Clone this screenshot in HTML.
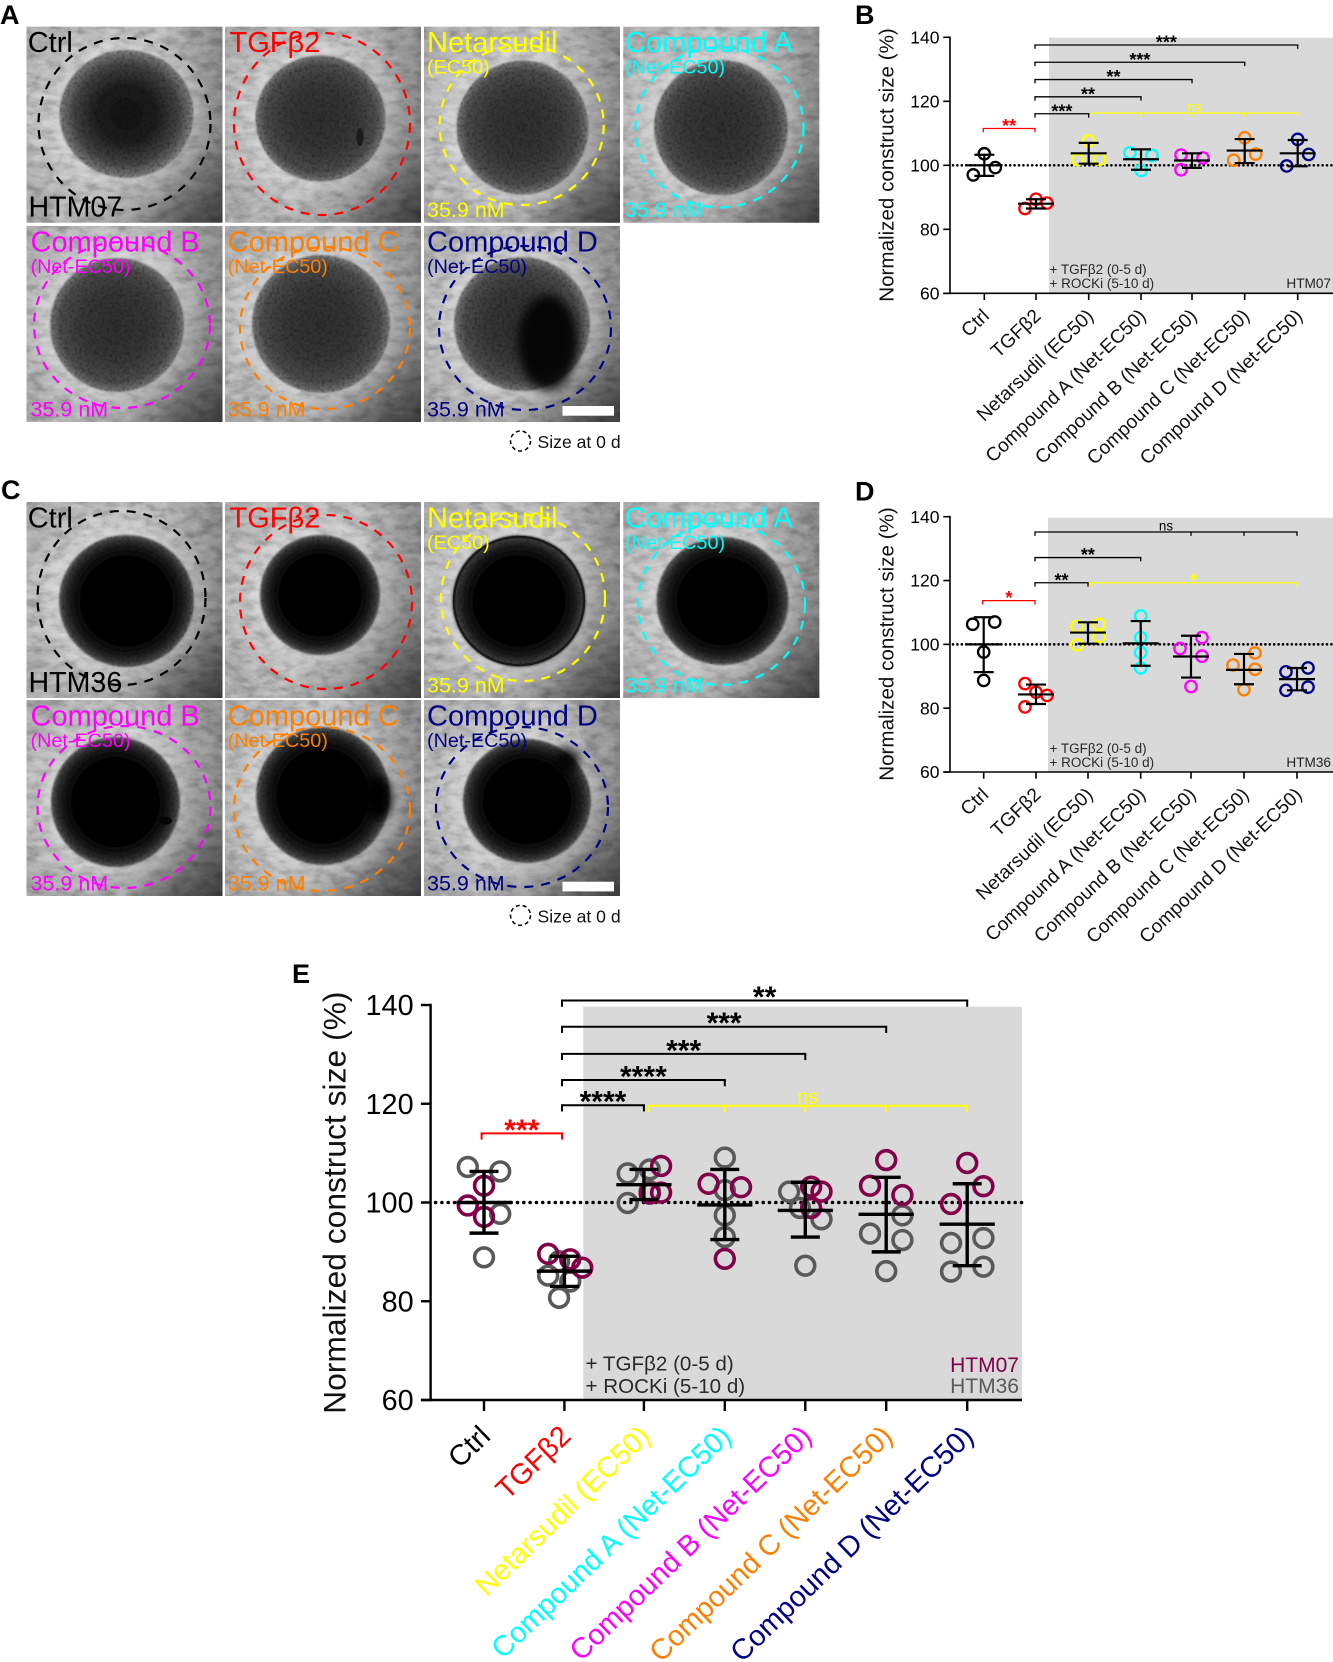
<!DOCTYPE html>
<html lang="en">
<head>
<meta charset="utf-8">
<title>Normalized construct size figure</title>
<style>
html,body{margin:0;padding:0;background:#fff;width:1333px;height:1662px;overflow:hidden}
svg{display:block}
text{font-family:"Liberation Sans","Noto Sans CJK SC",sans-serif}
</style>
</head>
<body>
<svg id="fig" xmlns="http://www.w3.org/2000/svg" width="1333" height="1662" viewBox="0 0 1333 1662">
<defs>
<radialGradient id="tileGlow" cx="50%" cy="50%" r="62%">
<stop offset="0%" stop-color="#fff" stop-opacity=".46"/><stop offset="62%" stop-color="#fff" stop-opacity=".32"/><stop offset="100%" stop-color="#fff" stop-opacity="0"/>
</radialGradient>
<linearGradient id="tileShade" x1="0.15" y1="0.1" x2="1" y2="1">
<stop offset="0%" stop-color="#000" stop-opacity="0"/><stop offset="72%" stop-color="#000" stop-opacity=".04"/><stop offset="100%" stop-color="#000" stop-opacity=".55"/>
</linearGradient>
<linearGradient id="tileShadeTop" x1="0" y1="0" x2="1" y2="0.4">
<stop offset="60%" stop-color="#000" stop-opacity="0"/><stop offset="100%" stop-color="#000" stop-opacity=".25"/>
</linearGradient>
<radialGradient id="sphLight"><stop offset="0%" stop-color="#2e2e2e"/><stop offset="55%" stop-color="#383838"/><stop offset="85%" stop-color="#4c4c4c"/><stop offset="100%" stop-color="#787878"/></radialGradient>
<radialGradient id="sphMid"><stop offset="0%" stop-color="#141414"/><stop offset="45%" stop-color="#1e1e1e"/><stop offset="78%" stop-color="#444"/><stop offset="100%" stop-color="#808080"/></radialGradient>
<radialGradient id="sphDark"><stop offset="0%" stop-color="#040404"/><stop offset="68%" stop-color="#050505"/><stop offset="82%" stop-color="#181818"/><stop offset="93%" stop-color="#363636"/><stop offset="100%" stop-color="#5a5a5a"/></radialGradient>
<radialGradient id="halo"><stop offset="68%" stop-color="#fff" stop-opacity=".26"/><stop offset="100%" stop-color="#fff" stop-opacity="0"/></radialGradient>
<filter id="grainDark" x="0" y="0" width="1" height="1" color-interpolation-filters="sRGB"><feTurbulence type="fractalNoise" baseFrequency=".07 .13" numOctaves="4" seed="7"/><feColorMatrix values="0 0 0 0 0 0 0 0 0 0 0 0 0 0 0 2.4 0 0 0 -1"/></filter>
<filter id="grainLight" x="0" y="0" width="1" height="1" color-interpolation-filters="sRGB"><feTurbulence type="fractalNoise" baseFrequency=".06 .11" numOctaves="4" seed="19"/><feColorMatrix values="0 0 0 0 1 0 0 0 0 1 0 0 0 0 1 2.6 0 0 0 -1.05"/></filter>
<filter id="speck" x="0" y="0" width="1" height="1" color-interpolation-filters="sRGB"><feTurbulence type="fractalNoise" baseFrequency=".4" numOctaves="2" seed="4" result="n"/><feColorMatrix in="n" values="0 0 0 0 0 0 0 0 0 0 0 0 0 0 0 3 0 0 0 -1.35" result="d"/><feGaussianBlur in="d" stdDeviation=".6" result="b"/><feComposite in="b" in2="SourceAlpha" operator="in"/></filter>
<filter id="edgeSoft" x="-5%" y="-5%" width="110%" height="110%"><feGaussianBlur stdDeviation="1.1"/></filter>
<filter id="soft" x="-30%" y="-30%" width="160%" height="160%"><feGaussianBlur stdDeviation="5"/></filter>
</defs>
<g id="photos"></g>
<g id="charts"></g>
</svg>
<script>
/* ---------- chart data ---------- */
const categories = ["Ctrl", "TGFβ2", "Netarsudil (EC50)", "Compound A (Net-EC50)", "Compound B (Net-EC50)", "Compound C (Net-EC50)", "Compound D (Net-EC50)"];
const groupColors = ["#000000", "#ff0000", "#ffff00", "#00ffff", "#ff00ff", "#ff7f00", "#000080"];
const yTickLabels = [60, 80, 100, 120, 140];

const bValues = [[103.6, 97, 99.3], [89.4, 86.5, 88.2], [107.6, 101.8, 101.9], [103.9, 103.1, 98.4], [103.2, 102.3, 98.6], [108.6, 103.5, 101.6], [108.1, 103.4, 99.8]];
const bSlots = [[0, -1, 1], [0, -1, 1], [0, -1, 1], [-1, 1, 0], [-1, 1, -1], [0, 1, -1], [0, 1, -1]];
const bMeans = [100, 88, 103.75, 101.9, 101.5, 104.6, 103.75];
const bUpper = [103.3, 89.4, 107, 105, 103.75, 108.2, 107.9];
const bLower = [96.7, 86.5, 100.5, 98.6, 99.2, 100.7, 99.7];
const bBrackets = [
  {from: 0, to: 1, level: 111.5, label: "**", color: "#ff0000", drops: [0, 1]},
  {from: 1, to: 2, level: 116.1, label: "***", color: "#000000", drops: [1, 2]},
  {from: 1, to: 3, level: 121.4, label: "**", color: "#000000", drops: [1, 3]},
  {from: 1, to: 4, level: 126.8, label: "**", color: "#000000", drops: [1, 4]},
  {from: 1, to: 5, level: 132.2, label: "***", color: "#000000", drops: [1, 5]},
  {from: 1, to: 6, level: 137.6, label: "***", color: "#000000", drops: [1, 6]},
  {from: 2.05, to: 6, level: 116.35, label: "ns", color: "#ffff00", drops: [2.05, 3, 4, 5, 6]}
];

const dValues = [[106.3, 107, 97.6, 88.7], [87.7, 85, 84, 80.4], [105.6, 106.3, 102.5, 99.8], [108.9, 102.1, 97.4, 92.6], [102.1, 98.7, 96.3, 86.8], [97.3, 93.5, 92.2, 85.8], [91.4, 92.6, 85.6, 86.6]];
const dSlots = [[-1, 1, 0, 0], [-1, 0, 1, -1], [-1, 1, 1, -1], [0, 0, 0, 0], [1, -1, 1, 0], [1, -1, 1, 0], [-1, 1, -1, 1]];
const dMeans = [100, 84.3, 103.7, 100.3, 96.2, 92, 89.1];
const dUpper = [108.5, 87.4, 106.9, 107.3, 102.7, 97, 92.6];
const dLower = [91.3, 81.3, 100.2, 93.3, 89.6, 87.5, 85.6];
const dBrackets = [
  {from: 0, to: 1, level: 113.7, label: "*", color: "#ff0000", drops: [0, 1]},
  {from: 1, to: 2, level: 119.3, label: "**", color: "#000000", drops: [1, 2]},
  {from: 1, to: 3, level: 127.2, label: "**", color: "#000000", drops: [1, 3]},
  {from: 1, to: 6, level: 135.2, label: "ns", color: "#000000", drops: [1, 4, 5, 6]},
  {from: 2.05, to: 6, level: 119.3, label: "*", color: "#ffff00", drops: [2.05, 6]}
];

const eHtm36Values = [[107.2, 106.3, 97.7, 88.9], [88.1, 85.2, 84, 80.7], [105.9, 106.7, 102.3, 99.9], [109.1, 102.5, 97.4, 93], [102.2, 98.9, 96.6, 87.2], [97.4, 93.7, 92.4, 86.1], [92.8, 91.8, 87, 86]];
const eHtm36Slots = [[-1, 1, 1, 0], [-0.33, -1, 0.36, -0.33], [-1, 0.36, 0.36, -1], [0, 0, 0, 0], [-1, -0.33, 1, 0], [1, -1, 1, 0], [1, -1, 1, -1]];
const eHtm07Values = [[103.4, 99.4, 97.1], [89.6, 88.5, 86.8], [107.4, 101.8, 102], [103.8, 103.1, 88.6], [103.2, 102.2, 98.9], [108.6, 103.4, 101.5], [108, 103.3, 99.7]];
const eHtm07Slots = [[0, -1, 0], [-1, 0.36, 1.1], [1.06, 0.36, 1.06], [-1, 1, 0], [0.36, 1, 0.36], [0, -1, 1], [0, 1, -1]];
const eMeans = [100, 86.1, 103.6, 99.5, 98.4, 97.6, 95.6];
const eUpper = [106.3, 89.1, 106.7, 106.7, 104.1, 105.1, 103.8];
const eLower = [93.8, 83, 100.6, 92.5, 93, 90, 87.2];
const eBrackets = [
  {from: 0, to: 1, level: 114, label: "***", color: "#ff0000", drops: [0, 1]},
  {from: 1, to: 2, level: 119.7, label: "****", color: "#000000", drops: [1, 2]},
  {from: 1, to: 3, level: 124.8, label: "****", color: "#000000", drops: [1, 3]},
  {from: 1, to: 4, level: 130.1, label: "***", color: "#000000", drops: [1, 4]},
  {from: 1, to: 5, level: 135.6, label: "***", color: "#000000", drops: [1, 5]},
  {from: 1, to: 6, level: 140.9, label: "**", color: "#000000", drops: [1, 6]},
  {from: 2.06, to: 6, level: 119.6, label: "ns", color: "#ffff00", drops: [2.06, 3, 4, 5, 6]}
];

/* ---------- micrograph labels ---------- */
const tileTitles = ["Ctrl", "TGFβ2", "Netarsudil", "Compound A", "Compound B", "Compound C", "Compound D"];
const tileSubtitles = ["", "", "(EC50)", "(Net-EC50)", "(Net-EC50)", "(Net-EC50)", "(Net-EC50)"];
const tileDoses = ["", "", "35.9 nM", "35.9 nM", "35.9 nM", "35.9 nM", "35.9 nM"];
const legendText = "Size at 0 d";

const NS = "http://www.w3.org/2000/svg";
function add(parent, tag, attrs, text) {
  const e = document.createElementNS(NS, tag);
  for (const k in attrs) e.setAttribute(k, attrs[k]);
  if (text !== undefined) e.textContent = text;
  parent.appendChild(e);
  return e;
}
const photos = document.getElementById("photos");
const charts = document.getElementById("charts");

/* ---------- micrograph panels ---------- */
const tileCols = [26.5, 225, 424, 623.3];
const tileTextInset = [1.2, 4.5, 3, 1.8, 4, 2.8, 3];
const panelA = {
  letter: "A", letterX: 0, letterY: 24, rows: [26.7, 226], sample: "HTM07", grad: "sphLight", bar: 406, legY: 441, legBase: 448,
  tiles: [
    {s: [126.5, 114, 67, 64], d: [124.5, 124, 86, 86], grad: "sphMid"},
    {s: [320.5, 118.5, 65, 63], d: [322, 124, 88, 91], blobs: [[360, 137, 3.5, 9, .6]]},
    {s: [522.5, 127.5, 66, 67], d: [521.7, 125, 82, 80]},
    {s: [721, 127.5, 67, 67.5], d: [719.5, 127.5, 84, 80]},
    {s: [117, 325, 67, 67], d: [122, 325, 88, 83]},
    {s: [321, 324, 69, 69], d: [325, 328, 85, 81]},
    {s: [522, 324, 68, 67], d: [525, 328, 86, 82], blobs: [[548, 343, 30, 48, .88]]}
  ]
};
const panelC = {
  letter: "C", letterX: 1, letterY: 499, rows: [502, 700], sample: "HTM36", grad: "sphDark", bar: 881.7, legY: 915.3, legBase: 922.7,
  tiles: [
    {s: [126.5, 601, 67.5, 66], d: [121.5, 598, 84, 87]},
    {s: [320, 595, 60, 60], d: [326, 602, 86, 87]},
    {s: [519, 601, 67, 66], d: [523, 598, 82, 83], rim: true},
    {s: [722.5, 601, 66, 64], d: [721.5, 604, 83.5, 81]},
    {s: [115.5, 802, 64.5, 65], d: [124, 807, 86.5, 81], blobs: [[165, 820.7, 7, 4, 1]]},
    {s: [323, 796, 67, 69], d: [322, 809, 88, 82], blobs: [[378, 798, 14, 22, 1]]},
    {s: [527, 801, 64, 62], d: [522, 807, 86, 80], blobs: [[567, 760, 12, 12, .9]]}
  ]
};
function drawPanel(p) {
  const letter = add(photos, "text", {x: p.letterX, y: p.letterY, "font-size": 27, "font-weight": 700, fill: "#000"}, p.letter);
  
  
  p.tiles.forEach(function (t, i) {
    const x0 = tileCols[i < 4 ? i : i - 4];
    const y0 = p.rows[i < 4 ? 0 : 1];
    const g = add(photos, "g", {});
    
    
    const box = {x: x0, y: y0, width: 196, height: 196};
    add(g, "rect", Object.assign({fill: "#ababab"}, box));
    add(g, "rect", Object.assign({fill: "url(#tileGlow)"}, box));
    add(g, "rect", Object.assign({fill: "#000", filter: "url(#grainDark)", opacity: .2}, box));
    add(g, "rect", Object.assign({fill: "#fff", filter: "url(#grainLight)", opacity: .28}, box));
    add(g, "rect", Object.assign({fill: "url(#tileShade)"}, box));
    add(g, "rect", Object.assign({fill: "url(#tileShadeTop)"}, box));
    const S = t.s;
    add(g, "ellipse", {cx: S[0], cy: S[1], rx: S[2] * 1.28, ry: S[3] * 1.28, fill: "url(#halo)"});
    const sph = add(g, "ellipse", {cx: S[0], cy: S[1], rx: S[2], ry: S[3], fill: "url(#" + (t.grad || p.grad) + ")", filter: "url(#edgeSoft)"});
    
    
    add(g, "ellipse", {cx: S[0], cy: S[1], rx: S[2], ry: S[3], fill: "#000", filter: "url(#speck)", opacity: .35});
    if (t.rim) add(g, "ellipse", {cx: S[0], cy: S[1], rx: S[2] - 2, ry: S[3] - 2, fill: "none", stroke: "#1a1a1a", "stroke-width": 2.4});
    (t.blobs || []).forEach(function (b) {
      add(g, "ellipse", {cx: b[0], cy: b[1], rx: b[2], ry: b[3], fill: "#060606", opacity: b[4], filter: b[2] > 8 ? "url(#soft)" : "none"});
    });
    const col = groupColors[i];
    const D = t.d;
    const dash = add(g, "ellipse", {cx: D[0], cy: D[1], rx: D[2], ry: D[3], fill: "none", stroke: col, "stroke-width": 2.2, "stroke-dasharray": "9 8"});
    
    
    const tx = x0 + tileTextInset[i];
    const title = add(g, "text", {x: tx, y: y0 + 25.5, "font-size": 29, fill: col}, tileTitles[i]);
    
    
    if (tileSubtitles[i]) {
      const sub = add(g, "text", {x: tx, y: y0 + 46.8, "font-size": 19.8, fill: col}, tileSubtitles[i]);
      
      
    }
    if (tileDoses[i]) {
      const dose = add(g, "text", {x: tx, y: y0 + 190.4, "font-size": 21.5, fill: col}, tileDoses[i]);
      
      
    }
    if (i === 0) {
      const sample = add(g, "text", {x: x0 + 2, y: y0 + 190, "font-size": 28.6, fill: "#000"}, p.sample);
      
      
    }
  });
  const bar = add(photos, "rect", {x: 562.5, y: p.bar, width: 51.5, height: 9.7, fill: "#fff"});
  
  
  const lc = add(photos, "ellipse", {cx: 520.5, cy: p.legY, rx: 10, ry: 10, fill: "none", stroke: "#000", "stroke-width": 1.5, "stroke-dasharray": "4 3"});
  
  
  const lt = add(photos, "text", {x: 537.5, y: p.legBase, "font-size": 17.6, fill: "#111"}, legendText);
  
  
}
drawPanel(panelA);
drawPanel(panelC);

/* ---------- charts ---------- */
function drawChart(c) {
  const g = add(charts, "g", {});
  
  
  const sy = function (v) { return c.y60 + (v - 60) * (c.y140 - c.y60) / 80; };
  const sx = function (i) {
    const lo = Math.floor(i);
    const hi = Math.min(lo + 1, c.ticks.length - 1);
    return c.ticks[lo] + (i - lo) * (c.ticks[hi] - c.ticks[lo]);
  };
  const bx = function (i) { return sx(i) + (i < 2 ? c.hubShift : 0); };

  const letter = add(g, "text", {x: c.letterX, y: c.letterY, "font-size": 27, "font-weight": 700, fill: "#000"}, c.letter);
  
  

  const bg = add(g, "rect", {x: c.grayX, y: c.grayTop, width: c.right - c.grayX, height: c.y60 - c.grayTop, fill: "#d9d9d9"});
  
  

  const ref = add(g, "line", {x1: c.axisX + c.refGap, x2: c.right, y1: sy(100), y2: sy(100), stroke: "#000", "stroke-width": c.refW, "stroke-linecap": "round", "stroke-dasharray": "0 " + c.refStep});
  
  

  /* points */
  c.series.forEach(function (s) {
    s.values.forEach(function (vals, i) {
      vals.forEach(function (v, j) {
        const p = add(g, "circle", {cx: c.ticks[i] + s.slots[i][j] * c.slotW, cy: sy(v), r: c.r, fill: "none", stroke: s.color || groupColors[i], "stroke-width": c.ptW});
        
        
      });
    });
  });

  /* mean and error bars */
  c.means.forEach(function (m, i) {
    const x = c.ticks[i];
    const v = add(g, "line", {x1: x, x2: x, y1: sy(c.upper[i]), y2: sy(c.lower[i]), stroke: "#000", "stroke-width": c.barW});
    
    
    const t = add(g, "line", {x1: x - c.capW, x2: x + c.capW, y1: sy(c.upper[i]), y2: sy(c.upper[i]), stroke: "#000", "stroke-width": c.barW});
    
    
    const b = add(g, "line", {x1: x - c.capW, x2: x + c.capW, y1: sy(c.lower[i]), y2: sy(c.lower[i]), stroke: "#000", "stroke-width": c.barW});
    
    
    const ml = add(g, "line", {x1: x - c.meanW, x2: x + c.meanW, y1: sy(m), y2: sy(m), stroke: "#000", "stroke-width": c.barW});
    
    
  });

  /* axes */
  const ya = add(g, "line", {x1: c.axisX, x2: c.axisX, y1: sy(140) - c.axisW / 2, y2: c.y60 + c.axisW / 2, stroke: "#000", "stroke-width": c.axisW});
  
  
  const xa = add(g, "line", {x1: c.axisX - c.yTick, x2: c.right, y1: c.y60, y2: c.y60, stroke: "#000", "stroke-width": c.axisW});
  
  
  yTickLabels.forEach(function (v) {
    const t = add(g, "line", {x1: c.axisX - c.yTick, x2: c.axisX, y1: sy(v), y2: sy(v), stroke: "#000", "stroke-width": c.axisW});
    
    
    const l = add(g, "text", {x: c.yLabelX, y: sy(v) + c.yFont * 0.35, "text-anchor": "end", "font-size": c.yFont, fill: "#000"}, String(v));
    
    
  });
  categories.forEach(function (name, i) {
    const x = c.ticks[i];
    const t = add(g, "line", {x1: x, x2: x, y1: c.y60, y2: c.y60 + c.xTick, stroke: "#000", "stroke-width": c.axisW});
    
    
    const ax = x + c.xLabelDx;
    const ay = c.y60 + c.xLabelDy;
    const l = add(g, "text", {x: ax, y: ay, "text-anchor": "end", "font-size": c.xFont, fill: c.colorLabels ? groupColors[i] : "#111", transform: "rotate(" + c.xAngle + " " + ax + " " + ay + ")"}, name);
    
    
  });
  const yt = add(g, "text", {x: c.titleX, y: c.titleY, "text-anchor": "middle", "font-size": c.titleFont, fill: "#111", transform: "rotate(-90 " + c.titleX + " " + c.titleY + ")"}, "Normalized construct size (%)");
  
  

  /* significance brackets */
  c.brackets.forEach(function (b) {
    const y = sy(b.level);
    const x1 = bx(b.from);
    const x2 = bx(b.to);
    const h = add(g, "line", {x1: x1 - c.brW / 2, x2: x2 + c.brW / 2, y1: y, y2: y, stroke: b.color, "stroke-width": c.brW});
    
    
    b.drops.forEach(function (d) {
      const dx = bx(d);
      const dl = add(g, "line", {x1: dx, x2: dx, y1: y, y2: y + c.brDrop, stroke: b.color, "stroke-width": c.brW});
      
      
    });
    const isNs = b.label === "ns";
    const t = add(g, "text", {x: (x1 + x2) / 2, y: y + (isNs ? c.nsDy : c.starDy), "text-anchor": "middle", "font-size": isNs ? c.nsFont : c.starFont, "font-weight": isNs ? 400 : 700, fill: b.color}, b.label);
    
    
  });

  /* annotations */
  const a1 = add(g, "text", {x: c.noteX, y: c.noteY1, "font-size": c.noteFont, fill: "#2a2a2a"}, "+ TGFβ2 (0-5 d)");
  
  
  const a2 = add(g, "text", {x: c.noteX, y: c.noteY2, "font-size": c.noteFont, fill: "#2a2a2a"}, "+ ROCKi (5-10 d)");
  
  
  c.strains.forEach(function (s) {
    const t = add(g, "text", {x: c.strainX, y: s.y, "text-anchor": "end", "font-size": c.strainFont, fill: s.color}, s.label);
    
    
  });
}

const smallStyle = {
  right: 1333, axisX: 950, refGap: 3, refW: 2.6, refStep: 4.4, r: 5.7, ptW: 2.3, slotW: 11, barW: 2.2, capW: 10, meanW: 18,
  axisW: 1.6, yTick: 6.7, xTick: 6.7, yLabelX: 939.5, yFont: 17.5, xFont: 19.2, xAngle: -43.5, xLabelDx: 6, xLabelDy: 24, titleX: 893.3, titleFont: 20.6,
  hubShift: -1, brW: 1.3, brDrop: 3.8, starDy: 3.5, nsDy: -1.5, starFont: 18, nsFont: 13.4, noteX: 1049.5, noteFont: 13.5, strainFont: 13.6, strainX: 1331, colorLabels: false
};
drawChart(Object.assign({}, smallStyle, {
  name: "chart-htm07", letter: "B", letterX: 855, letterY: 24, y140: 37.3, y60: 293.3, grayX: 1049, grayTop: 37.7,
  ticks: [984.3, 1036, 1088.7, 1141, 1192, 1244.7, 1297.7], titleY: 165,
  series: [{values: bValues, slots: bSlots}], means: bMeans, upper: bUpper, lower: bLower, brackets: bBrackets,
  noteY1: 274, noteY2: 288, strains: [{label: "HTM07", y: 288, color: "#222"}]
}));
drawChart(Object.assign({}, smallStyle, {
  name: "chart-htm36", letter: "D", letterX: 855, letterY: 500.7, y140: 516.7, y60: 772, grayX: 1048, grayTop: 517.7,
  ticks: [983.7, 1036, 1088, 1140.7, 1191, 1244, 1297], titleY: 644,
  series: [{values: dValues, slots: dSlots}], means: dMeans, upper: dUpper, lower: dLower, brackets: dBrackets,
  noteY1: 753, noteY2: 767, strains: [{label: "HTM36", y: 767, color: "#222"}]
}));
drawChart({
  name: "chart-combined", letter: "E", letterX: 292, letterY: 983, y140: 1005, y60: 1400, grayX: 583.3, grayTop: 1006.7,
  ticks: [484, 564.4, 643.9, 724.8, 805.3, 886.2, 967.2], right: 1022, axisX: 430.6, refGap: 5, refW: 3.6, refStep: 6.3,
  r: 9.4, ptW: 3.6, slotW: 16.2, barW: 3.4, capW: 14.5, meanW: 27.6, axisW: 2.4, yTick: 9.7, xTick: 11, yLabelX: 413.6, yFont: 28.8,
  xFont: 28.9, xAngle: -44, xLabelDx: 8, xLabelDy: 38, titleX: 345.7, titleY: 1202.7, titleFont: 31.8, colorLabels: true,
  series: [{values: eHtm36Values, slots: eHtm36Slots, color: "#595959"}, {values: eHtm07Values, slots: eHtm07Slots, color: "#82004a"}],
  means: eMeans, upper: eUpper, lower: eLower, brackets: eBrackets,
  hubShift: -2.4, brW: 2, brDrop: 6.2, starDy: 6.5, nsDy: -2, starFont: 30, nsFont: 20, noteX: 585.5, noteY1: 1370.7, noteY2: 1393, noteFont: 20.6, strainFont: 21,
  strainX: 1019, strains: [{label: "HTM07", y: 1372, color: "#82004a"}, {label: "HTM36", y: 1393, color: "#595959"}]
});
</script>
</body>
</html>
